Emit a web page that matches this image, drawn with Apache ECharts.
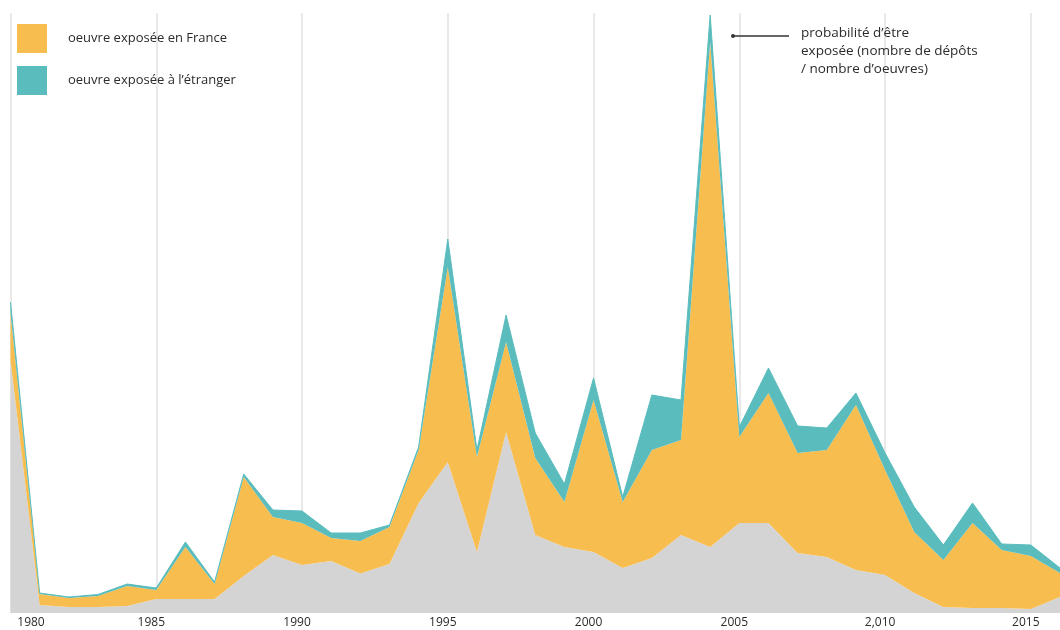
<!DOCTYPE html>
<html>
<head>
<meta charset="utf-8">
<script src="https://cdn.jsdelivr.net/npm/echarts@6/dist/echarts.min.js"></script>
<style>
html,body{margin:0;padding:0;background:#fff;}
#c{width:1060px;height:630px;}
</style>
</head>
<body>
<div id="c"></div>
<script>
var years = ['1980','1981','1982','1983','1984','1985','1986','1987','1988','1989','1990','1991','1992','1993','1994','1995','1996','1997','1998','1999','2000','2001','2002','2003','2004','2005','2006','2007','2008','2009','2010','2011','2012','2013','2014','2015','2016'];
var baseValues   = [253,8,6,6,7,14,14,14,37,58,48,52,39.5,49,110,151,61,181,78,66,61,45,55,78,66,90,90,60,56,43,38,20,6,5,5,4,16];
var franceValues = [47,11,9,11,20,9,52,15,99,38,42,23,32.5,37,53,195,95,90,77,45,152,66,108,95,505,86,130,100,107,165,105,61,47,85,58,53,24];
var abroadValues = [11,1,1,1.5,2,2,5,2,3,7,12,5,8,2,3,28,7,27,25,18,22,5,55,40,27,10,25,27,22,12,17,25,15,20,6,11,5];
var tickYears  = ['1980','1985','1990','1995','2000','2005','2010','2015'];
var tickLabels = ['1980','1985','1990','1995','2000','2005','2,010','2015'];
var legendNames = ['oeuvre exposée en France', 'oeuvre exposée à l\u2019étranger'];
var noteLines = ['probabilité d\u2019être', 'exposée (nombre de dépôts', '/ nombre d\u2019oeuvres)'];

var FONT = 'Open Sans';
var TEXT = '#2b2b2b';
var chart = echarts.init(document.getElementById('c'));
chart.setOption({
  backgroundColor:'#ffffff',
  animation:false,
  grid:{left:10.5, top:13, bottom:17, width:1060.2},
  legend:{
    data:legendNames,
    orient:'vertical',
    left:17, top:24, padding:0,
    itemWidth:30, itemHeight:29, itemGap:13,
    icon:'rect',
    textStyle:{fontFamily:FONT, fontSize:13, color:TEXT, padding:[0,0,0,16]}
  },
  xAxis:{
    type:'category', data:years, boundaryGap:false,
    axisLine:{show:false}, axisTick:{show:false},
    splitLine:{show:true, interval:function(i){ return i%5===0; }, lineStyle:{color:'#e2e2e2', width:1.5}},
    axisLabel:{
      margin:4, fontFamily:FONT, fontSize:12, color:TEXT,
      interval:function(i){ return i%5===0; },
      formatter:function(v){
        var i = tickYears.indexOf(v);
        if(i<0) return '';
        return i===0 ? '{f|'+tickLabels[i]+'}' : '{n|'+tickLabels[i]+'}';
      },
      rich:{
        f:{fontFamily:FONT, fontSize:12, color:TEXT, padding:[0,0,0,41]},
        n:{fontFamily:FONT, fontSize:12, color:TEXT, padding:[0,10,0,0]}
      }
    }
  },
  yAxis:{type:'value', min:0, max:600, show:false, splitLine:{show:false}},
  series:[
    {name:'probabilité', type:'line', stack:'s', data:baseValues, symbol:'none',
     lineStyle:{width:0}, areaStyle:{color:'#d4d4d4', opacity:1}, itemStyle:{color:'#d4d4d4'}, z:2},
    {name:legendNames[0], type:'line', stack:'s', data:franceValues, symbol:'none',
     lineStyle:{width:0}, areaStyle:{color:'#f8bd4f', opacity:1}, itemStyle:{color:'#f8bd4f'}, z:2},
    {name:legendNames[1], type:'line', stack:'s', data:abroadValues, symbol:'none',
     lineStyle:{width:1, color:'#5bbcbd'}, areaStyle:{color:'#5bbcbd', opacity:1}, itemStyle:{color:'#5bbcbd'}, z:2}
  ],
  graphic:[
    {type:'line', shape:{x1:733, y1:36, x2:789, y2:36}, style:{stroke:'#333', lineWidth:1.3}, z:10},
    {type:'circle', shape:{cx:733, cy:36, r:2}, style:{fill:'#333'}, z:10},
    {type:'text', left:801, top:24, style:{text:noteLines.join('\n'), fontFamily:FONT, fontSize:13.5, lineHeight:18, fill:TEXT}, z:10}
  ]
});
</script>
</body>
</html>
